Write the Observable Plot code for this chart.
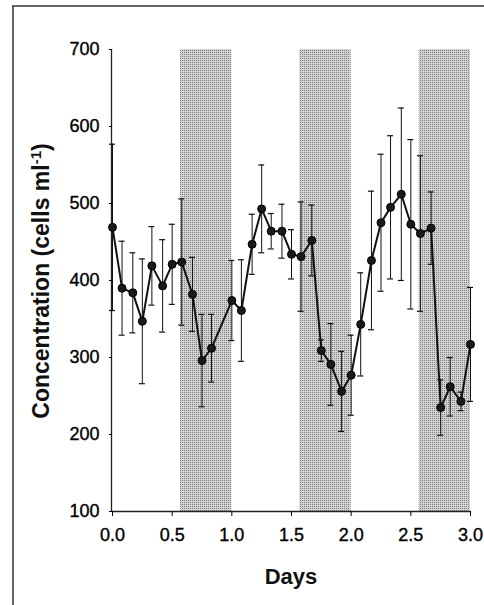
<!DOCTYPE html>
<html><head><meta charset="utf-8">
<script src="https://cdn.jsdelivr.net/npm/d3@7"></script>
<script src="https://cdn.jsdelivr.net/npm/@observablehq/plot@0.6"></script>
<style>body{margin:0;background:#fff} svg g[aria-label$="tick label"] text{stroke:#000;stroke-width:0.35px}</style>
</head><body><div id="chart"></div>
<script>
const days = [0, 0.08, 0.17, 0.25, 0.33, 0.42, 0.5, 0.58, 0.67, 0.75, 0.83, 1.0, 1.08, 1.17, 1.25, 1.33, 1.42, 1.5, 1.58, 1.67, 1.75, 1.83, 1.92, 2.0, 2.08, 2.17, 2.25, 2.33, 2.42, 2.5, 2.58, 2.67, 2.75, 2.83, 2.92, 3.0];
const conc = [469, 390, 384, 347, 419, 393, 421, 424, 382, 296, 312, 374, 361, 447, 493, 464, 464, 434, 431, 452, 309, 291, 256, 277, 343, 426, 475, 495, 512, 473, 461, 468, 235, 262, 243, 317];
const sd = [108, 61, 52, 81, 51, 60, 52, 82, 48, 60, 44, 52, 66, 39, 57, 23, 35, 32, 71, 46, 14, 53, 52, 52, 67, 90, 89, 93, 112, 110, 101, 47, 36, 38, 12, 74];
const nightStart = [0.57, 1.57, 2.57];
const nightEnd = [1.0, 2.0, 3.0];
const xTicks = [0, 0.5, 1, 1.5, 2, 2.5, 3];
const yTicks = [100, 200, 300, 400, 500, 600, 700];
const xDomain = [0, 3];
const yDomain = [100, 700];

const data = days.map((d, i) => ({day: d, c: conc[i], lo: conc[i] - sd[i], hi: conc[i] + sd[i]}));
const nights = nightStart.map((s, i) => ({x1: s, x2: nightEnd[i]}));

const svg = Plot.plot({
  width: 484, height: 605,
  marginLeft: 112, marginRight: 14, marginTop: 49, marginBottom: 94,
  style: {fontFamily: "'Liberation Sans', Arial, sans-serif", fontSize: "18px", background: "white", color: "#000"},
  x: {domain: xDomain},
  y: {domain: yDomain},
  marks: [
    Plot.rect(nights, {x1: "x1", x2: "x2", y1: () => yDomain[0], y2: () => yDomain[1], fill: "url(#stipple)"}),
    Plot.ruleX([xDomain[0]], {y1: () => yDomain[0], y2: () => yDomain[1], dx: -1, stroke: "#222", strokeWidth: 1.3}),
    Plot.ruleY([yDomain[0]], {x1: () => xDomain[0], x2: () => xDomain[1], stroke: "#222", strokeWidth: 1.3}),
    Plot.axisY(yTicks, {tickSize: 3, tickPadding: 10, label: null, tickFormat: d => String(d)}),
    Plot.axisX(xTicks, {tickSize: 5, tickPadding: 12, label: null, tickFormat: d3.format(".1f")}),
    Plot.ruleX(data, {x: "day", y1: "lo", y2: "hi", stroke: "#111", strokeWidth: 1}),
    Plot.ruleY(data, {y: "hi", x1: "day", x2: "day", insetLeft: -3, insetRight: -3, stroke: "#111", strokeWidth: 1.2}),
    Plot.ruleY(data, {y: "lo", x1: "day", x2: "day", insetLeft: -3, insetRight: -3, stroke: "#111", strokeWidth: 1.2}),
    Plot.line(data, {x: "day", y: "c", stroke: "#111", strokeWidth: 2}),
    Plot.dot(data, {x: "day", y: "c", r: 4, fill: "#1a1a1a", stroke: "#000", strokeWidth: 1})
  ]
});

const s = d3.select(svg);
const defs = s.insert("defs", ":first-child");
const pat = defs.append("pattern").attr("id", "stipple").attr("width", 2).attr("height", 2).attr("patternUnits", "userSpaceOnUse");
pat.append("rect").attr("width", 2).attr("height", 2).attr("fill", "#d2d2d2");
pat.append("rect").attr("width", 1).attr("height", 1).attr("fill", "#7e7e7e");

// decorative frame
s.append("line").attr("x1", 12).attr("x2", 484).attr("y1", 6).attr("y2", 6).attr("stroke", "#333").attr("stroke-width", 1.5);
s.append("line").attr("x1", 13).attr("x2", 13).attr("y1", 6).attr("y2", 605).attr("stroke", "#333").attr("stroke-width", 1.5);

s.append("text").attr("x", 291).attr("y", 584).attr("text-anchor", "middle")
  .attr("font-weight", "bold").attr("font-size", 22).attr("fill", "#111").text("Days");

const yl = s.append("text").attr("transform", "translate(49,281) rotate(-90)").attr("text-anchor", "middle")
  .attr("font-weight", "bold").attr("font-size", 23).attr("fill", "#111");
yl.append("tspan").text("Concentration (cells ml");
yl.append("tspan").attr("dy", -8).attr("font-size", 15).text("-1");
yl.append("tspan").attr("dy", 8).text(")");

document.getElementById("chart").appendChild(svg);
</script>
</body></html>
